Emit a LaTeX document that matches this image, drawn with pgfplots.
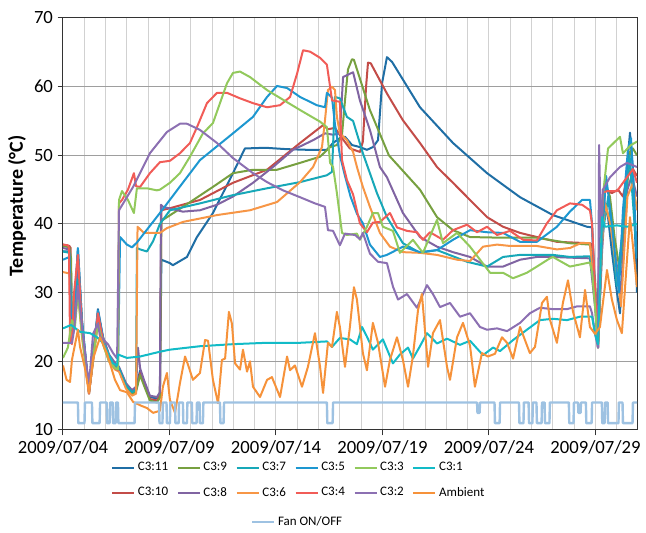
\documentclass[border=0pt]{standalone}
\usepackage{fontspec}
\setmainfont{Carlito}
\usepackage{pgfplots}
\pgfplotsset{compat=1.18}

\definecolor{cA}{RGB}{31,110,165}   % C3:11
\definecolor{cB}{RGB}{195,76,72}    % C3:10
\definecolor{cC}{RGB}{119,160,64}   % C3:9
\definecolor{cD}{RGB}{128,100,162}  % C3:8
\definecolor{cE}{RGB}{23,168,184}   % C3:7
\definecolor{cF}{RGB}{247,150,70}   % C3:6
\definecolor{cG}{RGB}{29,151,208}   % C3:5
\definecolor{cH}{RGB}{241,92,87}    % C3:4
\definecolor{cI}{RGB}{146,201,92}   % C3:3
\definecolor{cJ}{RGB}{140,112,178}  % C3:2
\definecolor{cK}{RGB}{18,187,199}   % C3:1
\definecolor{cL}{RGB}{246,146,58}   % Ambient
\definecolor{cM}{RGB}{158,194,226}  % Fan

\pgfplotsset{
  lg/.style={
    legend image code/.code={\draw[##1] (0pt,0pt) -- (16.5pt,0pt);},
    legend style={draw=none, fill=none, font=\fontsize{9.75}{11}\selectfont,
      row sep=6.75pt, /tikz/every even column/.append style={column sep=4.5pt}},
    legend cell align=left,
  },
}

\begin{document}
\begin{tikzpicture}
\begin{axis}[name=ax,
  scale only axis, width=430.5pt, height=309pt,
  xmin=0, xmax=26.95, ymin=10, ymax=70,
  xtick={0,5,10,15,20,25},
  xticklabels={2009/07/04,2009/07/09,2009/07/14,2009/07/19,2009/07/24,2009/07/29},
  minor xtick={1,2,3,4,6,7,8,9,11,12,13,14,16,17,18,19,21,22,23,24,26},
  ytick={10,20,30,40,50,60,70},
  /pgf/number format/assume math mode=true,
  xmajorgrids, xminorgrids, ymajorgrids,
  x grid style={draw=black!18, line width=0.75pt},
  y grid style={draw=black!38, line width=0.75pt},
  tick pos=left, tick align=outside,
  major tick length=4pt, minor tick length=0pt,
  tick style={black!80, line width=0.75pt},
  axis line style={black!80, line width=0.75pt},
  ticklabel style={font=\fontsize{14}{16}\selectfont},
  ylabel={Temperature (°C)},
  every axis y label/.style={at={(axis description cs:-0.080,0.544)}, rotate=90, anchor=center,
    font=\bfseries\fontsize{15}{18}\selectfont},
  lg,
  legend columns=2, transpose legend,
  legend style={at={(axis description cs:0.0767,-0.065)}, anchor=north west},
  every axis plot/.append style={line width=1.5pt, line join=round, no markers},
]
% C3:11
\addplot[cA] coordinates {(0,36.0) (0.30,36.0) (0.38,33) (0.42,24) (0.52,27) (0.70,36.4) (0.89,26) (1.22,15.5) (1.46,22) (1.64,27.6) (1.88,23.5) (2.16,20.8) (2.44,19.3) (2.63,18.9) (2.96,16.5) (3.24,15.6) (3.43,16) (3.62,18.7) (3.80,17) (4.08,14.8) (4.41,14.6) (4.55,15.2) (4.62,34.8) (5.02,34.3) (5.16,34.0) (5.82,35.2) (6.29,38.1) (7.04,41.6) (7.98,47.4) (8.54,51.0) (9.5,51.1) (10.5,50.9) (11.5,50.8) (12.39,50.8) (12.68,51.8) (13.0,52.5) (13.24,52.7) (13.57,51.5) (13.94,51.2) (14.27,50.8) (14.55,51.2) (14.79,52.2) (14.98,60.5) (15.21,64.3) (15.45,63.6) (16.76,57.0) (18.31,51.8) (19.91,47.4) (21.46,43.9) (23.0,41.3) (24.60,39.6) (24.84,39.5) (24.98,30) (25.07,25) (25.21,38) (25.35,44) (25.59,41) (25.77,36) (26.01,30) (26.15,27) (26.29,35) (26.53,50) (26.62,53.3) (26.76,48) (26.95,30)};
\addlegendentry{C3:11}
% C3:10
\addplot[cB] coordinates {(0,37.0) (0.30,36.8) (0.36,36.5) (0.40,24) (0.52,26.5) (0.70,35) (0.89,25.5) (1.22,15.3) (1.46,21.5) (1.64,27) (1.88,23) (2.16,20.5) (2.44,19) (2.63,18.7) (2.96,16.3) (3.24,15.4) (3.43,15.8) (3.62,18.3) (3.80,16.8) (4.08,14.5) (4.41,14.3) (4.55,15) (4.62,42.0) (5.02,42.3) (6.43,43.5) (7.98,46.0) (9.58,47.9) (11.13,51.8) (12.21,54.4) (12.44,53.8) (12.77,54.0) (13.10,52.5) (13.47,51.0) (13.94,50.5) (14.08,52) (14.23,60) (14.32,63.5) (14.45,63.4) (15.21,59.0) (15.96,55.1) (16.76,51.8) (17.56,48.3) (18.31,46.0) (19.11,43.5) (19.91,41.0) (20.66,39.6) (21.46,38.7) (22.25,38.1) (23.19,37.4) (24.74,37.2) (24.84,37.0) (24.98,30) (25.12,22.5) (25.31,38) (25.45,45) (25.77,44.5) (26.06,45) (26.29,44) (26.53,47.5) (26.76,48) (26.95,47)};
\addlegendentry{C3:10}
% C3:9
\addplot[cC] coordinates {(0,36.8) (0.30,36.6) (0.38,35) (0.42,23.5) (0.52,26) (0.70,34) (0.89,25) (1.22,15.3) (1.46,21.5) (1.64,26.8) (1.88,23) (2.16,20.5) (2.44,19.2) (2.63,18.8) (2.96,16.2) (3.24,15.2) (3.43,15.6) (3.62,18) (3.80,16.5) (4.08,14.3) (4.41,14.0) (4.55,14.7) (4.62,40.8) (4.69,40.6) (5.63,42.5) (7.04,45.4) (7.98,47.4) (8.92,47.9) (10.05,47.9) (11.13,48.9) (12.07,49.8) (12.54,51.2) (12.86,51.5) (13.10,53) (13.24,58) (13.38,62.5) (13.57,64.0) (13.66,63.9) (14.41,56.6) (15.30,50) (16.76,45) (17.56,41) (18.31,39.1) (19.11,38.1) (20.66,38) (22.25,38) (23.80,37.2) (24.74,37) (24.98,32) (25.12,23) (25.31,40) (25.45,46) (25.68,44) (25.9,38) (26.15,33) (26.4,42) (26.62,50.5) (26.76,51) (26.95,50)};
\addlegendentry{C3:9}
% C3:8
\addplot[cD] coordinates {(0,36.5) (0.30,36.3) (0.40,24.5) (0.52,27) (0.70,33) (0.89,25) (1.22,16) (1.46,22) (1.64,27) (1.88,23.5) (2.16,21) (2.44,19.8) (2.63,19.2) (2.96,16.8) (3.24,15.8) (3.43,16.3) (3.52,22) (3.62,19) (3.80,17.3) (4.08,15) (4.41,14.8) (4.55,15.5) (4.60,42.8) (4.69,42.5) (5.63,41.8) (6.43,42.0) (7.23,42.8) (7.98,44.0) (8.92,46.0) (9.86,48.3) (10.80,50.8) (11.74,52.2) (12.30,53.2) (12.68,53.0) (13.00,53.2) (13.15,61.4) (13.62,62.1) (13.94,58) (14.41,53.7) (14.88,48.3) (15.21,46.8) (15.96,41.6) (16.76,38.1) (17.56,36.7) (18.31,35.9) (19.11,35.2) (19.91,33.8) (20.66,33.8) (21.46,34.8) (22.25,35.2) (23.0,35.2) (23.80,35.1) (24.74,35) (24.98,28) (25.12,22) (25.31,36) (25.45,43) (25.7,40) (26.0,34) (26.2,30) (26.5,45) (26.7,47) (26.95,44)};
\addlegendentry{C3:8}
% C3:7
\addplot[cE] coordinates {(0,36.0) (0.30,35.8) (0.40,24) (0.52,26) (0.70,32) (0.89,24.5) (1.22,15.8) (1.46,21.8) (1.64,26.5) (1.88,23) (2.16,20.5) (2.44,19.3) (2.63,19.0) (2.96,16.5) (3.24,15.5) (3.43,15.9) (3.47,36.5) (3.62,36.3) (3.94,36.0) (4.23,37.5) (4.55,40) (5.02,42.0) (6.43,43.0) (7.98,44.2) (9.58,45.2) (11.13,46.1) (12.39,47.1) (12.63,47.6) (12.77,58.5) (13.0,58.3) (13.33,55.6) (13.62,55) (14.08,50.3) (14.74,44.5) (15.21,41) (15.96,37.2) (16.76,35.8) (17.56,36.2) (18.97,34.5) (19.91,33.8) (20.66,35.2) (21.46,35.5) (23.0,35.5) (23.8,35.2) (24.74,35.3) (24.98,30) (25.12,23) (25.31,38) (25.6,44) (26.0,31) (26.3,40) (26.6,50) (26.95,35)};
\addlegendentry{C3:7}
% C3:6
\addplot[cF] coordinates {(0,33) (0.30,32.8) (0.40,23) (0.52,25) (0.70,30) (0.89,23.5) (1.22,15.5) (1.46,21) (1.64,25.5) (1.88,22.5) (2.16,20) (2.44,18.8) (2.63,18.5) (2.96,16) (3.24,15) (3.43,15.3) (3.50,39.6) (3.80,38.7) (4.55,38.7) (4.88,39.4) (5.63,40.3) (7.23,41.3) (8.78,42.0) (10.05,43.2) (11.13,46.1) (11.74,48.3) (12.16,51.2) (12.30,55.1) (12.44,59.5) (12.63,60.0) (12.77,59.5) (12.86,55.6) (13.00,53.2) (13.33,52.2) (13.62,50.5) (13.80,48.3) (14.08,45.4) (14.41,42.5) (14.88,38.7) (15.35,36.7) (15.96,35.9) (16.76,35.8) (17.56,35.5) (18.50,34.8) (19.11,34.6) (19.72,36.7) (20.38,37.0) (20.99,36.8) (21.60,36.8) (22.25,36.8) (23.19,36.3) (23.80,36.5) (24.3,37.2) (24.74,37.2) (24.98,30) (25.12,22.5) (25.31,37) (25.45,43) (25.7,40) (26.0,33) (26.2,28) (26.5,44) (26.76,46) (26.95,42)};
\addlegendentry{C3:6}
% C3:5
\addplot[cG] coordinates {(0,34.8) (0.30,35.2) (0.40,24.5) (0.52,27) (0.70,36.5) (0.89,26) (1.22,15.6) (1.46,22) (1.64,27.4) (1.88,23.3) (2.16,20.6) (2.44,19.2) (2.58,18.8) (2.68,38.1) (3.00,37.0) (3.24,36.6) (3.47,37.3) (4.55,41.6) (5.5,45.5) (6.43,49.3) (7.98,53.2) (8.92,55.6) (9.58,58.5) (10.05,60.1) (10.52,59.8) (11.13,58.5) (11.92,57.3) (12.30,57.0) (12.39,59.1) (12.63,58.4) (12.77,54.5) (13.0,50) (13.24,47) (13.5,44) (13.80,41.5) (14.08,40.1) (14.41,37) (14.88,35.2) (15.21,35.5) (15.96,36.7) (16.76,35.9) (17.56,36.2) (18.31,37.7) (19.11,39.1) (19.91,38.8) (20.66,38.7) (21.46,37.4) (22.25,37.4) (23.19,39.6) (23.80,41.8) (24.37,43.5) (24.74,43.5) (24.84,40) (24.98,30) (25.12,22) (25.31,38) (25.5,47) (25.77,40) (26.1,30) (26.29,42) (26.53,51) (26.67,52.5) (26.8,45) (26.95,35)};
\addlegendentry{C3:5}
% C3:4
\addplot[cH] coordinates {(0,37.0) (0.23,36.9) (0.28,36.5) (0.33,23) (0.42,22.5) (0.52,30) (0.70,35.5) (0.89,25) (1.22,15.3) (1.46,21.5) (1.64,27) (1.88,23) (2.16,20.4) (2.44,19) (2.58,18.7) (2.63,43.0) (2.77,43.5) (3.05,45) (3.33,47.4) (3.43,45.5) (3.62,45.4) (4.08,47.4) (4.55,49.0) (5.02,49.2) (5.49,50.3) (5.96,51.8) (6.29,54.1) (6.76,57.6) (7.23,59.1) (7.70,59.1) (8.31,58.3) (8.92,57.6) (9.58,57.0) (10.19,57.3) (10.66,58.5) (10.99,61.9) (11.27,65.3) (11.60,65.1) (12.07,64.2) (12.39,63.2) (12.54,60) (12.63,58) (13.0,57.8) (13.10,49.3) (13.33,46.4) (13.47,45.4) (13.62,44.3) (13.94,40.1) (14.27,38.8) (14.55,40.2) (14.88,40.3) (15.35,41.6) (15.68,39.5) (16.15,39) (16.62,38.8) (16.90,37.7) (17.23,38.8) (17.84,37.7) (18.31,39.1) (18.97,39.9) (19.44,38.8) (19.91,39.6) (20.38,38.4) (20.99,39.0) (21.60,37.7) (22.25,37.6) (22.72,40.1) (23.19,42.0) (23.80,43.0) (24.37,42.8) (24.74,42.0) (24.84,40) (25.02,28) (25.12,22) (25.35,44.6) (25.59,44.8) (26.01,44.8) (26.48,46.8) (26.76,48) (26.95,46)};
\addlegendentry{C3:4}
% C3:3
\addplot[cI] coordinates {(0,20.5) (0.23,22) (0.42,26) (0.56,25) (0.70,30) (0.89,24) (1.22,15.8) (1.46,21.5) (1.64,25.5) (1.88,22.5) (2.16,20) (2.44,19) (2.58,18.8) (2.63,43.5) (2.77,44.8) (3.05,43.5) (3.33,41.6) (3.47,45.2) (3.94,45.2) (4.41,44.9) (4.55,45.0) (5.02,46) (5.49,47.4) (5.96,49.8) (6.57,53.2) (7.04,54.7) (7.70,60.5) (7.98,62) (8.31,62.2) (8.78,61.4) (9.58,59.5) (11.13,56.6) (12.07,54.9) (12.39,54.1) (12.54,48.9) (12.68,48.3) (12.86,44.5) (13.10,38.7) (13.33,38.4) (13.80,38.6) (13.94,37.7) (14.27,39.6) (14.55,41.6) (14.79,41.6) (15.02,39.6) (15.49,39.0) (15.82,35.8) (16.43,37.7) (16.90,35.8) (17.56,40.6) (17.84,37.2) (18.50,38.7) (19.11,36.7) (19.58,34.8) (20.05,32.9) (20.66,32.9) (21.13,32.1) (21.78,32.9) (22.25,33.8) (22.86,35.0) (23.0,35.2) (23.80,33.8) (24.74,34.4) (24.84,33) (24.98,28) (25.12,22) (25.31,43) (25.45,47) (25.59,51) (26.15,52.7) (26.29,50.3) (26.67,51.5) (26.95,52)};
\addlegendentry{C3:3}
% C3:2
\addplot[cJ] coordinates {(0,22.7) (0.42,22.7) (0.52,24.5) (0.70,31) (0.89,25) (1.22,16.5) (1.41,24) (1.64,25.5) (1.74,23.6) (2.11,22.5) (2.35,21.2) (2.54,20.4) (2.63,42) (3.29,45.4) (4.08,50.3) (4.88,53.4) (5.49,54.6) (5.82,54.6) (6.43,53.7) (7.23,51.8) (7.98,49.6) (8.92,47.4) (9.58,46.1) (10.33,44.9) (11.13,43.9) (11.83,43) (12.30,42.5) (12.44,39.1) (12.68,39) (13.00,36.9) (13.24,38.6) (13.71,38.4) (13.94,37.8) (14.08,38.7) (14.41,35.7) (14.79,34.5) (15.21,34.3) (15.49,30.9) (15.73,29.0) (16.15,29.8) (16.62,27.8) (17.09,31.1) (17.37,29.8) (17.70,27.9) (18.17,28.5) (18.64,26.5) (19.11,27.0) (19.58,25.0) (19.91,24.6) (20.38,24.8) (20.85,24.4) (21.46,25.6) (21.92,27.0) (22.39,27.8) (23.0,27.6) (23.66,27.6) (24.13,28.0) (24.74,28.0) (24.84,27) (24.98,24) (25.12,22) (25.17,51.5) (25.26,38) (25.35,45) (25.68,46.8) (26.15,48.3) (26.48,48.9) (26.95,48.3)};
\addlegendentry{C3:2}
% C3:1
\addplot[cK] coordinates {(0,24.8) (0.38,25.3) (0.80,24.3) (1.27,24.1) (1.60,23.5) (1.88,22.7) (2.35,19.7) (2.54,19.4) (2.58,21.0) (3.00,20.5) (3.62,20.7) (4.55,21.4) (5.02,21.7) (6.43,22.2) (7.98,22.5) (9.58,22.7) (11.13,22.7) (12.39,22.9) (12.63,22.1) (13.00,23.4) (13.47,23.2) (13.80,22.5) (14.04,25) (14.27,23.6) (14.55,21.7) (15.02,23.2) (15.49,19.7) (15.82,21.0) (16.20,22.0) (16.43,20.4) (16.76,22.2) (17.09,24.1) (17.56,22.6) (18.03,23.3) (18.64,22.4) (19.11,23.0) (19.72,20.9) (20.19,22.0) (20.52,21.5) (21.13,23.1) (21.78,24.6) (22.39,26.0) (23.0,26.2) (23.66,26.0) (24.27,26.5) (24.84,26.5) (24.98,24) (25.12,22.5) (25.31,41) (25.45,39.6) (26.0,39.8) (26.5,39.6) (26.95,40)};
\addlegendentry{C3:1}
% Ambient
\addplot[cL] coordinates {(0,19.4) (0.17,17.3) (0.33,17.0) (0.42,20.2) (0.70,24.6) (0.80,22.1) (1.03,19) (1.22,15.4) (1.41,20.4) (1.74,23.5) (2.07,21.1) (2.44,17.3) (2.68,15.8) (3.00,15.5) (3.29,14.1) (3.62,13.6) (3.94,13.2) (4.23,12.5) (4.55,12.8) (4.69,16.3) (4.88,18.3) (5.02,14.4) (5.26,12.5) (5.49,16.8) (5.73,20.7) (5.87,19.5) (6.10,17.3) (6.43,18.3) (6.67,23.1) (6.81,23.0) (7.04,17.3) (7.28,13.9) (7.46,20.2) (7.61,20.4) (7.79,27.2) (7.93,25.5) (8.08,19.7) (8.31,18.8) (8.45,21.7) (8.64,18.5) (8.78,20.0) (8.92,16.3) (9.25,14.8) (9.58,17.3) (9.81,17.7) (10.19,14.8) (10.52,20.7) (10.66,18.7) (10.89,19.4) (11.22,16.3) (11.50,19.2) (11.83,24.1) (12.07,19.2) (12.21,15.4) (12.44,22.7) (12.63,22.1) (12.86,27.2) (13.00,25.0) (13.24,19.2) (13.47,25.0) (13.66,30.8) (13.80,29.0) (14.08,21.2) (14.27,18.7) (14.55,25.6) (14.79,22.7) (15.12,16.3) (15.35,20.2) (15.68,23.5) (15.96,20.2) (16.20,16.3) (16.43,20.8) (16.67,27.5) (16.85,29.8) (17.14,19.2) (17.37,24.1) (17.70,26.0) (18.03,19.2) (18.17,17.3) (18.50,23.5) (18.78,25.6) (19.11,22.3) (19.34,16.3) (19.67,21.2) (19.95,20.7) (20.28,21.1) (20.61,23.5) (20.85,22.7) (21.13,20.4) (21.46,25.0) (21.69,23.1) (21.92,21.2) (22.16,22.1) (22.49,28.5) (22.72,29.4) (22.86,26.1) (23.19,22.7) (23.47,28.5) (23.71,31.8) (23.94,27.3) (24.27,23.5) (24.51,30.4) (24.74,25.0) (24.98,24.0) (25.21,25.0) (25.54,33.3) (25.77,29.0) (26.01,26.0) (26.24,24.1) (26.48,34.8) (26.62,41.0) (26.76,36.8) (26.95,30.8)};
\addlegendentry{Ambient}
% Fan ON/OFF
\addplot[cM, line width=1.8pt, forget plot] coordinates {(0,14) (0.70,14) (0.72,11) (1.01,11) (1.03,14) (1.36,14) (1.38,11) (1.72,11) (1.74,14) (2.05,14) (2.07,11) (2.19,11) (2.21,14) (2.33,14) (2.35,11) (2.47,11) (2.49,14) (2.58,14) (2.60,11) (3.36,11) (3.38,14) (4.51,14) (4.53,11) (4.67,11) (4.69,14) (4.86,14) (4.88,11) (5.02,11) (5.04,14) (5.26,14) (5.28,11) (5.43,11) (5.45,14) (5.63,14) (5.65,11) (5.82,11) (5.84,14) (6.05,14) (6.07,11) (6.27,11) (6.29,14) (6.41,14) (6.43,11) (6.57,11) (6.59,14) (7.37,14) (7.39,11) (7.54,11) (7.56,14) (12.39,14) (12.41,11) (12.66,11) (12.68,14) (19.44,14) (19.46,12.5) (19.56,12.5) (19.58,14) (20.26,14) (20.28,11) (20.50,11) (20.52,14) (21.41,14) (21.43,11) (21.62,11) (21.64,14) (21.86,14) (21.88,11) (22.04,11) (22.06,14) (22.23,14) (22.25,11) (22.47,11) (22.49,14) (22.61,14) (22.63,11) (22.84,11) (22.86,14) (23.75,14) (23.77,11) (23.97,11) (23.99,14) (24.18,14) (24.20,12.5) (24.30,12.5) (24.32,14) (24.55,14) (24.57,11) (24.82,11) (24.84,14) (25.30,14) (25.32,11) (25.43,11) (25.45,14) (25.57,14) (25.59,11) (26.08,11) (26.10,14) (26.27,14) (26.29,11) (26.74,11) (26.76,14) (26.95,14)};
\end{axis}
\begin{axis}[scale only axis, width=430.5pt, height=309pt,
  at={(ax.south west)}, anchor=south west, hide axis,
  xmin=0, xmax=1, ymin=0, ymax=1, lg,
  legend style={at={(axis description cs:0.320,-0.223)}, anchor=west}]
\addlegendimage{cM, line width=1.8pt}
\addlegendentry{Fan ON/OFF}
\end{axis}
\path (ax.south west) ++(-47.25pt,-76.5pt) rectangle ++(484.5pt,399pt);
\end{tikzpicture}
\end{document}
